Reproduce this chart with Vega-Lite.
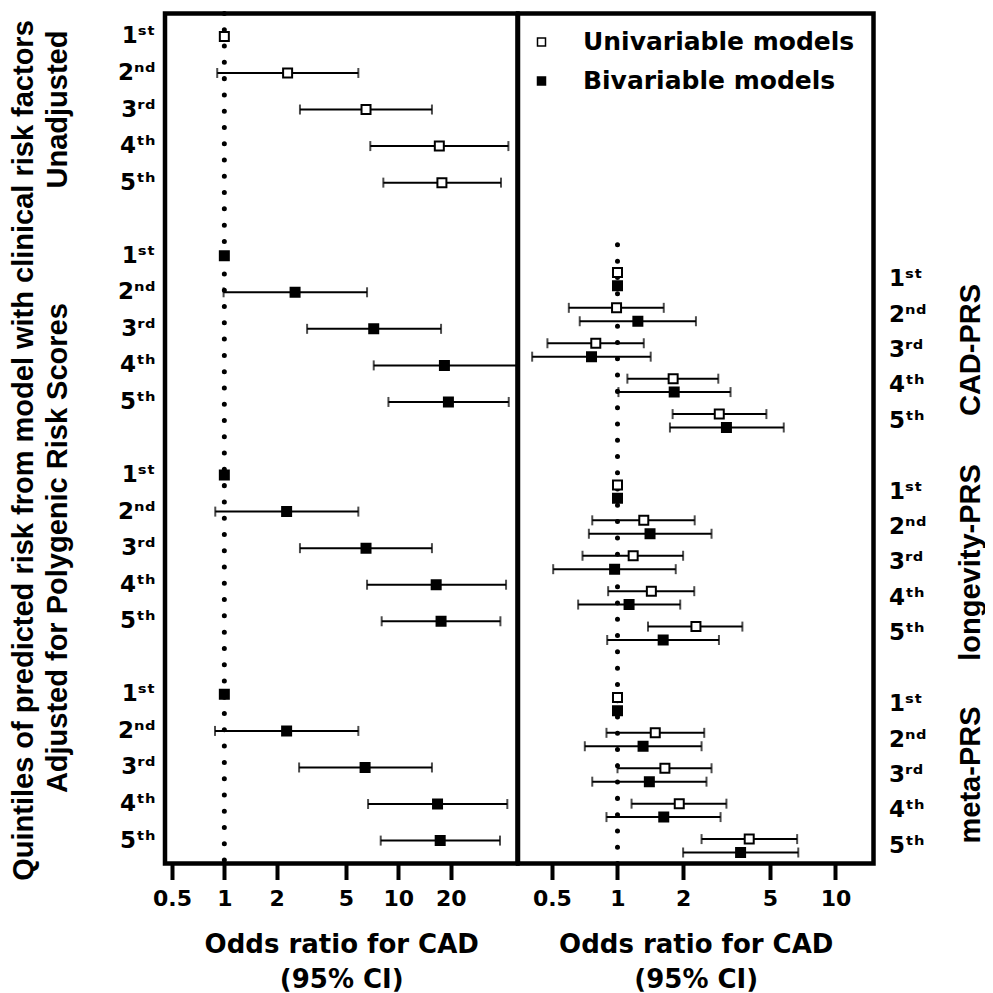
{
  "$schema": "https://vega.github.io/schema/vega-lite/v6.json",
  "background": "white",
  "padding": {"left": 8, "top": 8.5, "right": 0, "bottom": 0},
  "datasets": {
    "left": [
      {"row": "U1", "group": "Unadjusted", "quintile": 1, "model": "Univariable models", "or": 1, "lower": null, "upper": null},
      {"row": "U2", "group": "Unadjusted", "quintile": 2, "model": "Univariable models", "or": 2.31, "lower": 0.91, "upper": 5.89},
      {"row": "U3", "group": "Unadjusted", "quintile": 3, "model": "Univariable models", "or": 6.52, "lower": 2.72, "upper": 15.6},
      {"row": "U4", "group": "Unadjusted", "quintile": 4, "model": "Univariable models", "or": 17.2, "lower": 6.9, "upper": 42.9},
      {"row": "U5", "group": "Unadjusted", "quintile": 5, "model": "Univariable models", "or": 17.8, "lower": 8.2, "upper": 38.9},
      {"row": "C1", "group": "CAD-PRS", "quintile": 1, "model": "Bivariable models", "or": 1, "lower": null, "upper": null},
      {"row": "C2", "group": "CAD-PRS", "quintile": 2, "model": "Bivariable models", "or": 2.55, "lower": 0.99, "upper": 6.61},
      {"row": "C3", "group": "CAD-PRS", "quintile": 3, "model": "Bivariable models", "or": 7.22, "lower": 2.99, "upper": 17.6},
      {"row": "C4", "group": "CAD-PRS", "quintile": 4, "model": "Bivariable models", "or": 18.4, "lower": 7.22, "upper": 48},
      {"row": "C5", "group": "CAD-PRS", "quintile": 5, "model": "Bivariable models", "or": 19.4, "lower": 8.77, "upper": 43.1},
      {"row": "L1", "group": "longevity-PRS", "quintile": 1, "model": "Bivariable models", "or": 1, "lower": null, "upper": null},
      {"row": "L2", "group": "longevity-PRS", "quintile": 2, "model": "Bivariable models", "or": 2.28, "lower": 0.887, "upper": 5.89},
      {"row": "L3", "group": "longevity-PRS", "quintile": 3, "model": "Bivariable models", "or": 6.52, "lower": 2.72, "upper": 15.6},
      {"row": "L4", "group": "longevity-PRS", "quintile": 4, "model": "Bivariable models", "or": 16.5, "lower": 6.61, "upper": 41.6},
      {"row": "L5", "group": "longevity-PRS", "quintile": 5, "model": "Bivariable models", "or": 17.6, "lower": 8.02, "upper": 38.6},
      {"row": "M1", "group": "meta-PRS", "quintile": 1, "model": "Bivariable models", "or": 1, "lower": null, "upper": null},
      {"row": "M2", "group": "meta-PRS", "quintile": 2, "model": "Bivariable models", "or": 2.28, "lower": 0.884, "upper": 5.89},
      {"row": "M3", "group": "meta-PRS", "quintile": 3, "model": "Bivariable models", "or": 6.44, "lower": 2.69, "upper": 15.6},
      {"row": "M4", "group": "meta-PRS", "quintile": 4, "model": "Bivariable models", "or": 16.8, "lower": 6.7, "upper": 42.3},
      {"row": "M5", "group": "meta-PRS", "quintile": 5, "model": "Bivariable models", "or": 17.4, "lower": 7.92, "upper": 38.4}
    ],
    "right": [
      {"row": "C1", "group": "CAD-PRS", "quintile": 1, "model": "Univariable models", "or": 1, "lower": null, "upper": null},
      {"row": "C1", "group": "CAD-PRS", "quintile": 1, "model": "Bivariable models", "or": 1, "lower": null, "upper": null},
      {"row": "C2", "group": "CAD-PRS", "quintile": 2, "model": "Univariable models", "or": 0.99, "lower": 0.598, "upper": 1.63},
      {"row": "C2", "group": "CAD-PRS", "quintile": 2, "model": "Bivariable models", "or": 1.24, "lower": 0.671, "upper": 2.29},
      {"row": "C3", "group": "CAD-PRS", "quintile": 3, "model": "Univariable models", "or": 0.795, "lower": 0.477, "upper": 1.32},
      {"row": "C3", "group": "CAD-PRS", "quintile": 3, "model": "Bivariable models", "or": 0.76, "lower": 0.406, "upper": 1.42},
      {"row": "C4", "group": "CAD-PRS", "quintile": 4, "model": "Univariable models", "or": 1.8, "lower": 1.11, "upper": 2.9},
      {"row": "C4", "group": "CAD-PRS", "quintile": 4, "model": "Bivariable models", "or": 1.82, "lower": 1.01, "upper": 3.3},
      {"row": "C5", "group": "CAD-PRS", "quintile": 5, "model": "Univariable models", "or": 2.93, "lower": 1.79, "upper": 4.82},
      {"row": "C5", "group": "CAD-PRS", "quintile": 5, "model": "Bivariable models", "or": 3.16, "lower": 1.74, "upper": 5.79},
      {"row": "L1", "group": "longevity-PRS", "quintile": 1, "model": "Univariable models", "or": 1, "lower": null, "upper": null},
      {"row": "L1", "group": "longevity-PRS", "quintile": 1, "model": "Bivariable models", "or": 1, "lower": null, "upper": null},
      {"row": "L2", "group": "longevity-PRS", "quintile": 2, "model": "Univariable models", "or": 1.32, "lower": 0.766, "upper": 2.26},
      {"row": "L2", "group": "longevity-PRS", "quintile": 2, "model": "Bivariable models", "or": 1.41, "lower": 0.739, "upper": 2.7},
      {"row": "L3", "group": "longevity-PRS", "quintile": 3, "model": "Univariable models", "or": 1.18, "lower": 0.691, "upper": 2.0},
      {"row": "L3", "group": "longevity-PRS", "quintile": 3, "model": "Bivariable models", "or": 0.97, "lower": 0.507, "upper": 1.85},
      {"row": "L4", "group": "longevity-PRS", "quintile": 4, "model": "Univariable models", "or": 1.43, "lower": 0.906, "upper": 2.25},
      {"row": "L4", "group": "longevity-PRS", "quintile": 4, "model": "Bivariable models", "or": 1.13, "lower": 0.66, "upper": 1.94},
      {"row": "L5", "group": "longevity-PRS", "quintile": 5, "model": "Univariable models", "or": 2.29, "lower": 1.38, "upper": 3.74},
      {"row": "L5", "group": "longevity-PRS", "quintile": 5, "model": "Bivariable models", "or": 1.62, "lower": 0.897, "upper": 2.92},
      {"row": "M1", "group": "meta-PRS", "quintile": 1, "model": "Univariable models", "or": 1, "lower": null, "upper": null},
      {"row": "M1", "group": "meta-PRS", "quintile": 1, "model": "Bivariable models", "or": 1, "lower": null, "upper": null},
      {"row": "M2", "group": "meta-PRS", "quintile": 2, "model": "Univariable models", "or": 1.49, "lower": 0.89, "upper": 2.5},
      {"row": "M2", "group": "meta-PRS", "quintile": 2, "model": "Bivariable models", "or": 1.31, "lower": 0.708, "upper": 2.43},
      {"row": "M3", "group": "meta-PRS", "quintile": 3, "model": "Univariable models", "or": 1.65, "lower": 1.0, "upper": 2.7},
      {"row": "M3", "group": "meta-PRS", "quintile": 3, "model": "Bivariable models", "or": 1.4, "lower": 0.766, "upper": 2.56},
      {"row": "M4", "group": "meta-PRS", "quintile": 4, "model": "Univariable models", "or": 1.92, "lower": 1.16, "upper": 3.16},
      {"row": "M4", "group": "meta-PRS", "quintile": 4, "model": "Bivariable models", "or": 1.63, "lower": 0.89, "upper": 2.97},
      {"row": "M5", "group": "meta-PRS", "quintile": 5, "model": "Univariable models", "or": 4.02, "lower": 2.43, "upper": 6.67},
      {"row": "M5", "group": "meta-PRS", "quintile": 5, "model": "Bivariable models", "or": 3.67, "lower": 2.0, "upper": 6.75}
    ],
    "reference": [{"or": 1}]
  },
  "spacing": 0,
  "bounds": "flush",
  "resolve": {"scale": {"x": "independent", "y": "independent", "fill": "independent"}, "legend": {"fill": "independent"}},
  "hconcat": [
    {
      "width": 0,
      "height": 850,
      "data": {"name": "left"},
      "mark": {"type": "rule", "opacity": 0},
      "encoding": {
        "y": {
          "field": "row", "type": "nominal",
          "scale": {"type": "band", "domain": ["U1","U2","U3","U4","U5","g1","C1","C2","C3","C4","C5","g2","L1","L2","L3","L4","L5","g3","M1","M2","M3","M4","M5"], "paddingInner": 0, "paddingOuter": 0.127},
          "axis": {
            "orient": "left",
            "values": ["U3", "L3"],
            "labelExpr": "datum.value == 'U3' ? 'Unadjusted' : 'Adjusted for Polygenic Risk Scores'",
            "labelAngle": 270, "labelAlign": "center", "labelBaseline": "bottom",
            "labelPadding": 73, "labelFont": "Liberation Sans", "labelFontSize": 29, "labelLimit": 0,
            "title": "Quintiles of predicted risk from model with clinical risk factors",
            "titleFont": "Liberation Sans", "titleFontSize": 29, "titlePadding": 5, "titleY": 436.5
          }
        }
      }
    },
    {
      "width": 352.5,
      "height": 850,
      "view": {"stroke": "black", "strokeWidth": 4.5},
      "layer": [
        {
          "data": {"name": "reference"},
          "mark": {"type": "rule", "color": "black", "strokeWidth": 5, "strokeCap": "round", "strokeDash": [0.01, 16.27]},
          "encoding": {
            "x": {"field": "or", "type": "quantitative", "scale": {"type": "log", "domain": [0.456, 48.4], "nice": false}, "axis": {"values": [0.5, 1, 2, 5, 10, 20], "format": "~g", "title": ["Odds ratio for CAD", "(95% CI)"]}}
          }
        },
        {
          "data": {"name": "left"},
          "encoding": {
            "y": {
              "field": "row", "type": "nominal",
              "scale": {"type": "band", "domain": ["U1","U2","U3","U4","U5","g1","C1","C2","C3","C4","C5","g2","L1","L2","L3","L4","L5","g3","M1","M2","M3","M4","M5"], "paddingInner": 0, "paddingOuter": 0.127},
              "axis": {
                "values": ["U1","U2","U3","U4","U5","C1","C2","C3","C4","C5","L1","L2","L3","L4","L5","M1","M2","M3","M4","M5"],
                "labelExpr": "substring(datum.value,1)=='1' ? '1\u02e2\u1d57' : substring(datum.value,1)=='2' ? '2\u207f\u1d48' : substring(datum.value,1)=='3' ? '3\u02b3\u1d48' : substring(datum.value,1)=='4' ? '4\u1d57\u02b0' : '5\u1d57\u02b0'",
                "labelAlign": "right", "labelBaseline": "middle", "labelPadding": 10, "labelFontSize": 23, "title": null
              }
            }
          },
          "layer": [
            {
              "mark": {"type": "rule", "color": "black", "strokeWidth": 2},
              "encoding": {
                "x": {"field": "lower", "type": "quantitative", "scale": {"type": "log", "domain": [0.456, 48.4], "nice": false}, "axis": {"values": [0.5, 1, 2, 5, 10, 20], "format": "~g", "title": ["Odds ratio for CAD", "(95% CI)"]}},
                "x2": {"field": "upper"}
              }
            },
            {
              "mark": {"type": "tick", "color": "black", "thickness": 2, "size": 10, "orient": "vertical"},
              "encoding": {
                "x": {"field": "lower", "type": "quantitative", "scale": {"type": "log", "domain": [0.456, 48.4], "nice": false}, "axis": {"values": [0.5, 1, 2, 5, 10, 20], "format": "~g", "title": ["Odds ratio for CAD", "(95% CI)"]}}
              }
            },
            {
              "mark": {"type": "tick", "color": "black", "thickness": 2, "size": 10, "orient": "vertical"},
              "encoding": {
                "x": {"field": "upper", "type": "quantitative", "scale": {"type": "log", "domain": [0.456, 48.4], "nice": false}, "axis": {"values": [0.5, 1, 2, 5, 10, 20], "format": "~g", "title": ["Odds ratio for CAD", "(95% CI)"]}}
              }
            },
            {
              "mark": {"type": "point", "shape": "square", "filled": true, "size": 81, "stroke": "black", "strokeWidth": 2, "opacity": 1},
              "encoding": {
                "x": {"field": "or", "type": "quantitative", "scale": {"type": "log", "domain": [0.456, 48.4], "nice": false}, "axis": {"values": [0.5, 1, 2, 5, 10, 20], "format": "~g", "title": ["Odds ratio for CAD", "(95% CI)"]}},
                "fill": {"field": "model", "type": "nominal", "scale": {"domain": ["Univariable models", "Bivariable models"], "range": ["white", "black"]}, "legend": null}
              }
            }
          ]
        }
      ]
    },
    {
      "width": 355.5,
      "height": 850,
      "view": {"stroke": "black", "strokeWidth": 4.5},
      "layer": [
        {
          "data": {"name": "reference"},
          "mark": {"type": "rule", "color": "black", "strokeWidth": 5, "strokeCap": "round", "strokeDash": [0.01, 16.27]},
          "encoding": {
            "x": {"field": "or", "type": "quantitative", "scale": {"type": "log", "domain": [0.3496, 14.94], "nice": false}, "axis": {"values": [0.5, 1, 2, 5, 10], "format": "~g", "title": ["Odds ratio for CAD", "(95% CI)"]}},
            "y": {
              "datum": "M5", "type": "nominal", "bandPosition": 1,
              "scale": {"type": "band", "domain": ["t1","t2","t3","t4","t5","t6","t7","C1","C2","C3","C4","C5","g2","L1","L2","L3","L4","L5","g3","M1","M2","M3","M4","M5"], "paddingInner": 0, "paddingOuter": 0},
              "axis": {
                "orient": "right",
                "values": ["C1","C2","C3","C4","C5","L1","L2","L3","L4","L5","M1","M2","M3","M4","M5"],
                "labelExpr": "substring(datum.value,1)=='1' ? '1\u02e2\u1d57' : substring(datum.value,1)=='2' ? '2\u207f\u1d48' : substring(datum.value,1)=='3' ? '3\u02b3\u1d48' : substring(datum.value,1)=='4' ? '4\u1d57\u02b0' : '5\u1d57\u02b0'",
                "labelAlign": "left", "labelBaseline": "middle", "labelPadding": 15, "labelFontSize": 23, "title": null
              }
            },
            "y2": {"datum": "t7"}
          }
        },
        {
          "data": {"name": "right"},
          "encoding": {
            "y": {
              "field": "row", "type": "nominal",
              "scale": {"type": "band", "domain": ["t1","t2","t3","t4","t5","t6","t7","C1","C2","C3","C4","C5","g2","L1","L2","L3","L4","L5","g3","M1","M2","M3","M4","M5"], "paddingInner": 0, "paddingOuter": 0},
              "axis": {
                "orient": "right",
                "values": ["C1","C2","C3","C4","C5","L1","L2","L3","L4","L5","M1","M2","M3","M4","M5"],
                "labelExpr": "substring(datum.value,1)=='1' ? '1\u02e2\u1d57' : substring(datum.value,1)=='2' ? '2\u207f\u1d48' : substring(datum.value,1)=='3' ? '3\u02b3\u1d48' : substring(datum.value,1)=='4' ? '4\u1d57\u02b0' : '5\u1d57\u02b0'",
                "labelAlign": "left", "labelBaseline": "middle", "labelPadding": 15, "labelFontSize": 23, "title": null
              }
            },
            "yOffset": {"field": "model", "type": "nominal", "scale": {"type": "band", "domain": ["Univariable models", "Bivariable models"], "paddingInner": 0, "paddingOuter": 0.32}}
          },
          "layer": [
            {
              "mark": {"type": "rule", "color": "black", "strokeWidth": 2},
              "encoding": {
                "x": {"field": "lower", "type": "quantitative", "scale": {"type": "log", "domain": [0.3496, 14.94], "nice": false}, "axis": {"values": [0.5, 1, 2, 5, 10], "format": "~g", "title": ["Odds ratio for CAD", "(95% CI)"]}},
                "x2": {"field": "upper"}
              }
            },
            {
              "mark": {"type": "tick", "color": "black", "thickness": 2, "size": 10, "orient": "vertical"},
              "encoding": {
                "x": {"field": "lower", "type": "quantitative", "scale": {"type": "log", "domain": [0.3496, 14.94], "nice": false}, "axis": {"values": [0.5, 1, 2, 5, 10], "format": "~g", "title": ["Odds ratio for CAD", "(95% CI)"]}}
              }
            },
            {
              "mark": {"type": "tick", "color": "black", "thickness": 2, "size": 10, "orient": "vertical"},
              "encoding": {
                "x": {"field": "upper", "type": "quantitative", "scale": {"type": "log", "domain": [0.3496, 14.94], "nice": false}, "axis": {"values": [0.5, 1, 2, 5, 10], "format": "~g", "title": ["Odds ratio for CAD", "(95% CI)"]}}
              }
            },
            {
              "mark": {"type": "point", "shape": "square", "filled": true, "size": 81, "stroke": "black", "strokeWidth": 2, "opacity": 1},
              "encoding": {
                "x": {"field": "or", "type": "quantitative", "scale": {"type": "log", "domain": [0.3496, 14.94], "nice": false}, "axis": {"values": [0.5, 1, 2, 5, 10], "format": "~g", "title": ["Odds ratio for CAD", "(95% CI)"]}},
                "fill": {
                  "field": "model", "type": "nominal",
                  "scale": {"domain": ["Univariable models", "Bivariable models"], "range": ["white", "black"]},
                  "legend": {
                    "orient": "none", "legendX": 11, "legendY": 16, "padding": 0, "title": null,
                    "symbolType": "square", "symbolSize": 64, "symbolStrokeColor": "black", "symbolStrokeWidth": 1.5,
                    "labelFont": "DejaVu Sans", "labelFontWeight": "bold", "labelFontSize": 25, "labelColor": "black",
                    "labelOffset": 29, "rowPadding": 13, "labelLimit": 0
                  }
                }
              }
            }
          ]
        }
      ]
    },
    {
      "width": 0,
      "height": 850,
      "data": {"name": "right"},
      "mark": {"type": "rule", "opacity": 0},
      "encoding": {
        "y": {
          "field": "row", "type": "nominal",
          "scale": {"type": "band", "domain": ["t1","t2","t3","t4","t5","t6","t7","C1","C2","C3","C4","C5","g2","L1","L2","L3","L4","L5","g3","M1","M2","M3","M4","M5"], "paddingInner": 0, "paddingOuter": 0},
          "axis": {
            "orient": "right",
            "values": ["C3", "L3", "M3"],
            "labelExpr": "datum.value == 'C3' ? 'CAD-PRS' : datum.value == 'L3' ? 'longevity-PRS' : 'meta-PRS'",
            "labelAngle": 270, "labelAlign": "center", "labelBaseline": "top",
            "labelPadding": 62, "labelFont": "Liberation Sans", "labelFontSize": 29, "labelLimit": 0,
            "title": null
          }
        }
      }
    }
  ],
  "config": {
    "font": "DejaVu Sans",
    "view": {"stroke": null},
    "axis": {
      "grid": false, "domain": false,
      "labelColor": "black", "titleColor": "black",
      "labelFont": "DejaVu Sans", "titleFont": "DejaVu Sans",
      "labelFontWeight": "bold", "titleFontWeight": "bold"
    },
    "axisX": {
      "tickColor": "black", "tickWidth": 4, "tickSize": 16,
      "labelFontSize": 22, "labelPadding": 9, "labelFlush": false, "labelOverlap": false,
      "titleFontSize": 26, "titlePadding": 22, "titleLineHeight": 35
    },
    "axisY": {"ticks": false, "labelLimit": 0, "labelOverlap": false}
  }
}
